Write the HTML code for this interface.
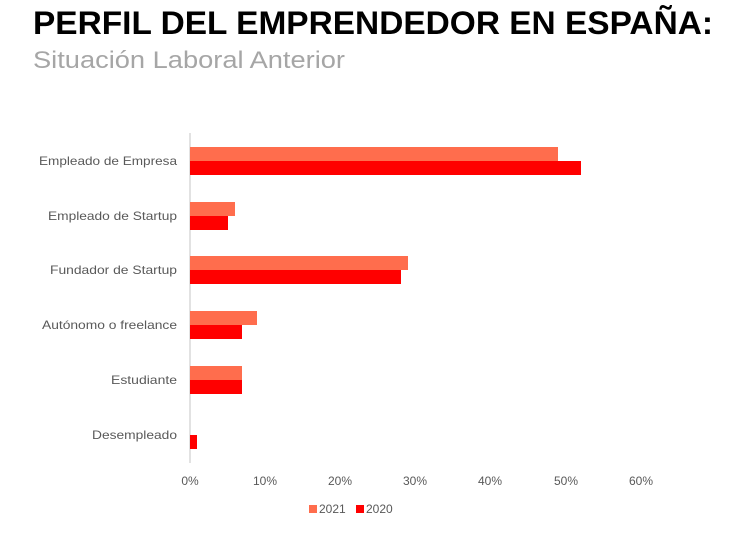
<!DOCTYPE html>
<html><head><meta charset="utf-8"><style>body{margin:0;background:#fff}svg{display:block}</style></head><body>
<svg width="734" height="535" xmlns="http://www.w3.org/2000/svg" font-family="Liberation Sans, sans-serif">
<rect width="734" height="535" fill="#fff"/>
<text x="33" y="34" font-size="32" font-weight="bold" fill="#000" textLength="680" lengthAdjust="spacingAndGlyphs">PERFIL DEL EMPRENDEDOR EN ESPAÑA:</text>
<text x="33" y="68" font-size="24" fill="#a6a6a6" textLength="312" lengthAdjust="spacingAndGlyphs">Situación Laboral Anterior</text>
<line x1="190" y1="133" x2="190" y2="463" stroke="#d9d9d9" stroke-width="1.5"/>
<g fill="#ff6d4d">
<rect x="190" y="147" width="368" height="14"/>
<rect x="190" y="202" width="45" height="14"/>
<rect x="190" y="256" width="218" height="14"/>
<rect x="190" y="311" width="67" height="14"/>
<rect x="190" y="366" width="52" height="14"/>
</g>
<g fill="#ff0000">
<rect x="190" y="161" width="391" height="14"/>
<rect x="190" y="216" width="38" height="14"/>
<rect x="190" y="270" width="211" height="14"/>
<rect x="190" y="325" width="52" height="14"/>
<rect x="190" y="380" width="52" height="14"/>
<rect x="190" y="435" width="7" height="14"/>
</g>
<g font-size="12" fill="#595959">
<text x="39" y="165" textLength="138" lengthAdjust="spacingAndGlyphs">Empleado de Empresa</text>
<text x="48" y="220" textLength="129" lengthAdjust="spacingAndGlyphs">Empleado de Startup</text>
<text x="50" y="274" textLength="127" lengthAdjust="spacingAndGlyphs">Fundador de Startup</text>
<text x="42" y="329" textLength="135" lengthAdjust="spacingAndGlyphs">Autónomo o freelance</text>
<text x="111" y="384" textLength="66" lengthAdjust="spacingAndGlyphs">Estudiante</text>
<text x="92" y="439" textLength="85" lengthAdjust="spacingAndGlyphs">Desempleado</text>
</g>
<g font-size="12" fill="#595959" text-anchor="middle">
<text x="190" y="485">0%</text>
<text x="265" y="485">10%</text>
<text x="340" y="485">20%</text>
<text x="415" y="485">30%</text>
<text x="490" y="485">40%</text>
<text x="566" y="485">50%</text>
<text x="641" y="485">60%</text>
</g>
<rect x="309" y="505" width="8" height="8" fill="#ff6d4d"/>
<text x="319" y="513" font-size="12" fill="#595959">2021</text>
<rect x="356" y="505" width="8" height="8" fill="#ff0000"/>
<text x="366" y="513" font-size="12" fill="#595959">2020</text>
</svg>
</body></html>
